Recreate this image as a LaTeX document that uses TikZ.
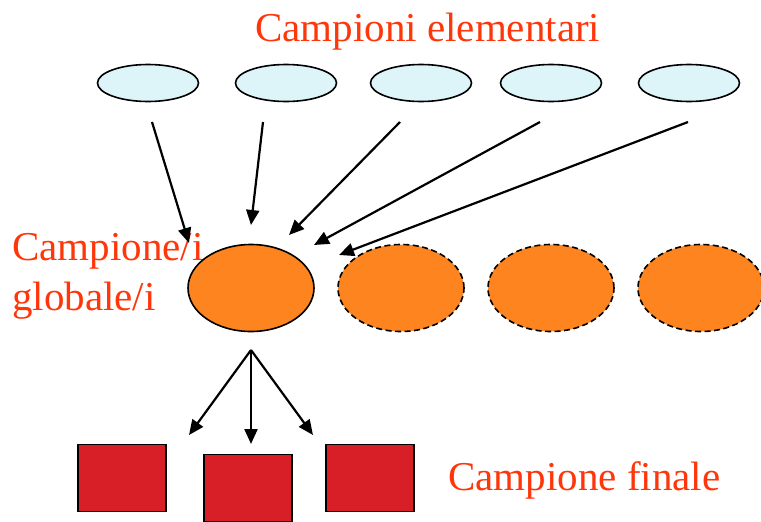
\documentclass[tikz,border=0pt]{standalone}
\usepackage{fontspec}
\setmainfont{Liberation Serif}
\usetikzlibrary{arrows.meta,shapes.geometric}
\definecolor{labelred}{HTML}{FF360A}
\definecolor{paleblue}{HTML}{DDF4F8}
\definecolor{sampleorange}{HTML}{FD841E}
\definecolor{finalred}{HTML}{D81F28}
\tikzset{
  elem/.style={ellipse, draw=black, line width=1.6pt, fill=paleblue,
    minimum width=101pt, minimum height=37pt, inner sep=0pt},
  glob/.style={ellipse, draw=black, line width=1.6pt, fill=sampleorange,
    minimum width=126pt, minimum height=87pt, inner sep=0pt},
  globdash/.style={glob, dash pattern=on 6pt off 3.5pt},
  finalbox/.style={rectangle, draw=black, line width=1.6pt, fill=finalred,
    minimum width=88pt, minimum height=67pt, inner sep=0pt},
  lbl/.style={text=labelred, font=\fontsize{41}{48}\selectfont, inner sep=0pt, anchor=base west},
  arr/.style={line width=2.2pt, -{Triangle[length=15pt,width=13pt]}}
}
\begin{document}
\begin{tikzpicture}[x=1pt,y=-1pt]
  \useasboundingbox (0,0) rectangle (761,522);

  % labels
  \node[lbl] (ttop) at (255,41) {Campioni elementari};
  \node[lbl] (tglob1) at (12,260) {Campione/i};
  \node[lbl] (tglob2) at (12,310) {globale/i};
  \node[lbl] (tfin) at (448,490) {Campione finale};

  % elementary samples
  \node[elem] (e1) at (148,83) {};
  \node[elem] (e2) at (286,83) {};
  \node[elem] (e3) at (421,83) {};
  \node[elem] (e4) at (551,83) {};
  \node[elem] (e5) at (689,83) {};

  % global samples
  \node[glob] (g1) at (251,288) {};
  \node[globdash] (g2) at (401,288) {};
  \node[globdash] (g3) at (551,288) {};
  \node[globdash] (g4) at (701,288) {};

  % final samples
  \node[finalbox] (f1) at (122,478) {};
  \node[finalbox] (f2) at (248,488) {};
  \node[finalbox] (f3) at (370,478) {};

  % arrow end points
  \coordinate (a1s) at (152,122); \coordinate (a1e) at (189,243);
  \coordinate (a2s) at (263,122); \coordinate (a2e) at (251,225);
  \coordinate (a3s) at (400,122); \coordinate (a3e) at (289,235);
  \coordinate (a4s) at (540,122); \coordinate (a4e) at (314,245);
  \coordinate (a5s) at (688,122); \coordinate (a5e) at (339,255);
  \coordinate (apex) at (251,350);
  \coordinate (b1e) at (189,435);
  \coordinate (b2e) at (251,444);
  \coordinate (b3e) at (313,435);

  \draw[arr] (a1s) -- (a1e);
  \draw[arr] (a2s) -- (a2e);
  \draw[arr] (a3s) -- (a3e);
  \draw[arr] (a4s) -- (a4e);
  \draw[arr] (a5s) -- (a5e);

  \draw[arr] (apex) -- (b1e);
  \draw[arr] (apex) -- (b2e);
  \draw[arr] (apex) -- (b3e);
\end{tikzpicture}
\end{document}
